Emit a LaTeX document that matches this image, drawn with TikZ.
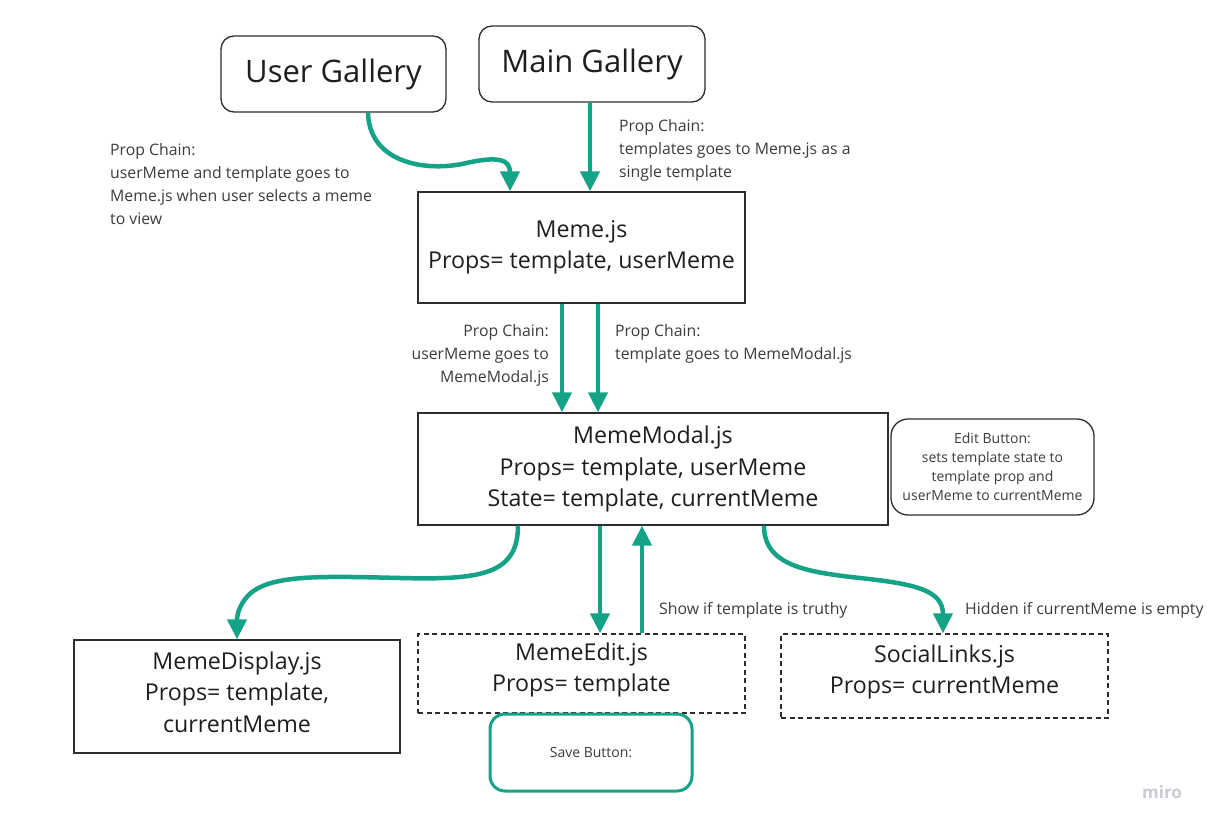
\documentclass[tikz,border=0pt]{standalone}
\usepackage{fontspec}
\setmainfont{Open Sans}
\usetikzlibrary{arrows.meta,calc}
\definecolor{grn}{RGB}{20,163,134}
\definecolor{edge}{RGB}{45,45,45}
\definecolor{txt}{RGB}{30,30,30}
\definecolor{lbl}{RGB}{60,60,60}
\definecolor{mirogray}{RGB}{200,202,212}
\begin{document}
\begin{tikzpicture}[x=1pt,y=-1pt,
  box/.style={draw=edge,line width=1.3pt,fill=white,inner sep=0pt,align=center,
    font=\fontsize{23.2}{31.5}\selectfont,text=txt},
  boxtext/.style={inner sep=0pt,align=center,font=\fontsize{23.2}{31.5}\selectfont,text=txt},
  gallery/.style={box,rounded corners=13pt,font=\fontsize{31}{36}\selectfont},
  dashbox/.style={box,dash pattern=on 5pt off 3.5pt},
  note/.style={box,rounded corners=17pt,font=\fontsize{14}{19}\selectfont,text=lbl},
  savebox/.style={box,draw=grn,line width=3pt,rounded corners=15pt,font=\fontsize{14}{19}\selectfont,text=lbl},
  lab/.style={inner sep=0pt,font=\fontsize{15.8}{23}\selectfont,text=lbl},
  flow/.style={draw=grn,line width=4.5pt,-{Triangle[width=19pt,length=20pt]}},
]
\useasboundingbox[fill=white] (0,0) rectangle (1210,826);

\node[gallery,minimum width=225pt,minimum height=76pt] (ug) at (333.5,74) {User Gallery};
\node[gallery,minimum width=226pt,minimum height=76pt] (mg) at (592,64) {Main Gallery};
\node[box,minimum width=327pt,minimum height=111pt] (meme) at (581.5,247.5) {Meme.js\\Props= template, userMeme};
\node[box,minimum width=470pt,minimum height=112pt] (modal) at (653,469) {MemeModal.js\\Props= template, userMeme\\State= template, currentMeme};
\node[note,minimum width=203pt,minimum height=96pt] (edit) at (992.5,467) {Edit Button:\\sets template state to\\template prop and\\userMeme to currentMeme};
\node[box,minimum width=326pt,minimum height=113pt] (disp) at (237,696.5) {};
\node[boxtext] (dispT) at ($(disp.center)+(0,-4.5)$) {MemeDisplay.js\\Props= template,\\currentMeme};
\node[dashbox,minimum width=327pt,minimum height=79pt] (medit) at (581.5,673.5) {};
\node[boxtext] (meditT) at ($(medit.center)+(0,-3.5)$) {MemeEdit.js\\Props= template};
\node[dashbox,minimum width=327pt,minimum height=84pt] (social) at (944.5,676) {};
\node[boxtext] (socialT) at ($(social.center)+(0,-4)$) {SocialLinks.js\\Props= currentMeme};
\node[savebox,minimum width=202pt,minimum height=77pt] (save) at (591,752.5) {Save Button:};

% labels
\node[lab,anchor=north west,align=left] (l1) at (110,143) {Prop Chain:\\userMeme and template goes to\\Meme.js when user selects a meme\\to view};
\node[lab,anchor=north west,align=left] (l2) at (619,119) {Prop Chain:\\templates goes to Meme.js as a\\single template};
\node[lab,anchor=north east,align=right] (l3) at (549,324) {Prop Chain:\\userMeme goes to\\MemeModal.js};
\node[lab,anchor=north west,align=left] (l4) at (615,324) {Prop Chain:\\template goes to MemeModal.js};
\node[lab,anchor=west] (l5) at (659,610) {Show if template is truthy};
\node[lab,anchor=west] (l6) at (965,610) {Hidden if currentMeme is empty};
\node[inner sep=0pt,font=\fontsize{17}{17}\selectfont\bfseries,text=mirogray] (miro) at (1162,792) {miro};

% connectors
\draw[flow] (ug.south -| 368,0) .. controls (369,160) and (420,172) .. (462,164)
   .. controls (500,155) and (510,160) .. (meme.north -| 510,0);
\draw[flow] (mg.south -| 590,0) -- (meme.north -| 590,0);
\draw[flow] (meme.south -| 562,0) -- (modal.north -| 562,0);
\draw[flow] (meme.south -| 598,0) -- (modal.north -| 598,0);
\draw[flow] (modal.south -| 518,0) .. controls (518,575) and (480,580) .. (400,578)
   .. controls (320,576) and (275,575) .. (252,592)
   .. controls (240,602) and (237,614) .. (disp.north -| 237,0);
\draw[flow] (modal.south -| 600,0) -- (medit.north -| 600,0);
\draw[flow] (medit.north -| 642,0) -- (modal.south -| 642,0);
\draw[flow] (modal.south -| 764,0) .. controls (764,565) and (805,572) .. (860,578)
   .. controls (915,584) and (943,590) .. (social.north -| 943,0);
\end{tikzpicture}
\end{document}
